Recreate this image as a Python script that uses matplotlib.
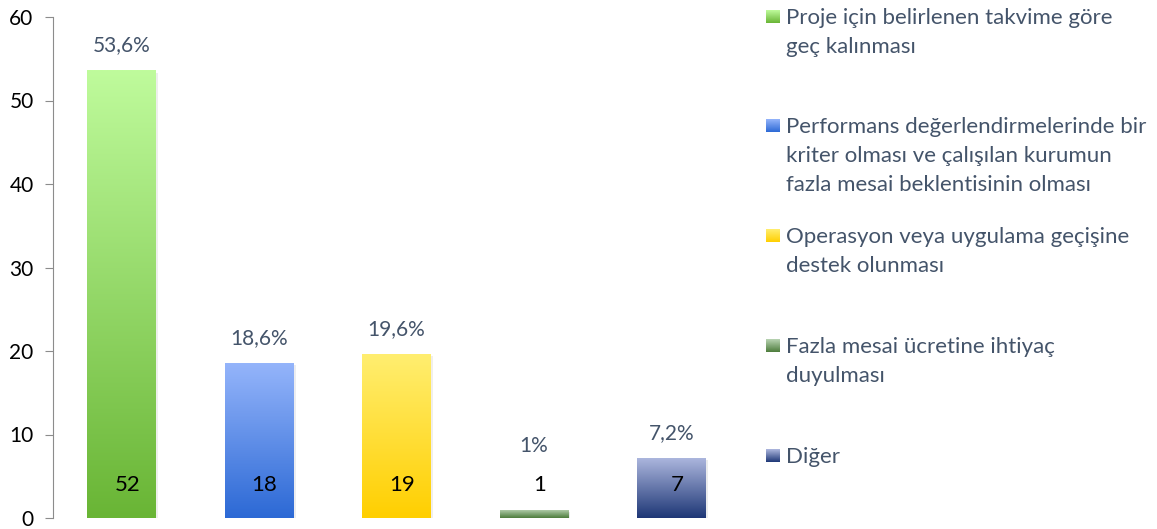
import numpy as np
import matplotlib.pyplot as plt
import matplotlib.patheffects as pe
from matplotlib.colors import to_rgb

plt.rcParams['font.family'] = ['Lato', 'DejaVu Sans']

# datos
categorias = ["Proje için belirlenen takvime göre\ngeç kalınması",
              "Performans değerlendirmelerinde bir\nkriter olması ve çalışılan kurumun\nfazla mesai beklentisinin olması",
              "Operasyon veya uygulama geçişine\ndestek olunması",
              "Fazla mesai ücretine ihtiyaç\nduyulması",
              "Diğer"]
porcentajes = [53.6, 18.6, 19.6, 1.0, 7.2]
etiquetas_pct = ["53,6%", "18,6%", "19,6%", "1%", "7,2%"]
cantidades = [52, 18, 19, 1, 7]
color_arriba = ["#bffb9c", "#95b5fb", "#ffee70", "#b9d4b3", "#aeb8df"]
color_abajo = ["#69b535", "#2c69d5", "#ffcf00", "#4d7c3c", "#1e3776"]
yticks = [0, 10, 20, 30, 40, 50, 60]

texto_col = "#44546a"
W, H = 1157, 529


def degradado(c1, c2, n=256):
    a = np.array(to_rgb(c1))
    b = np.array(to_rgb(c2))
    t = np.linspace(0, 1, n)[:, None]
    return (a * (1 - t) + b * t)[:, None, :]


fig = plt.figure(figsize=(W / 100, H / 100), dpi=100)
ax = fig.add_axes([53 / W, 1 - 518 / H, (740 - 53) / W, (518 - 17) / H])

x = np.arange(len(porcentajes))
ancho = 0.5
barras = ax.bar(x, porcentajes, width=ancho, color=color_abajo, zorder=2)

for i, b in enumerate(barras):
    b.set_path_effects([pe.SimplePatchShadow(offset=(1.5, -1.5), alpha=0.08), pe.Normal()])
    x0 = b.get_x()
    im = ax.imshow(degradado(color_arriba[i], color_abajo[i]), aspect='auto',
                   extent=(x0, x0 + ancho, 0, porcentajes[i]), zorder=3,
                   interpolation='bilinear')
    im.set_clip_path(b)
    # porcentaje arriba
    ypct = max(porcentajes[i] + 3.0, 8.6)
    ax.text(x[i], ypct, etiquetas_pct[i], ha='center', va='center',
            fontsize=15, color=texto_col, zorder=4)
    # cantidad dentro
    ax.text(x[i] + 0.04, 4.0, str(cantidades[i]), ha='center', va='center',
            fontsize=16, color='black', zorder=4)

ax.set_xlim(-0.5, len(porcentajes) - 0.5)
ax.set_ylim(0, 60)
ax.set_yticks(yticks)
ax.set_xticks([])
for s in ['top', 'right', 'bottom']:
    ax.spines[s].set_visible(False)
ax.spines['left'].set_color('#8c8c8c')
ax.tick_params(axis='y', colors='#8c8c8c', length=6, labelcolor='black',
               labelsize=15, pad=8)

# leyenda manual
cuadro_top = [10, 119, 229, 339, 449]
for i, cat in enumerate(categorias):
    cax = fig.add_axes([766 / W, 1 - (cuadro_top[i] + 13) / H, 14 / W, 13 / H])
    cax.imshow(degradado(color_arriba[i], color_abajo[i]), aspect='auto',
               interpolation='bilinear')
    cax.axis('off')
    fig.text(786 / W, 1 - (cuadro_top[i] - 2) / H, cat, ha='left', va='top',
             fontsize=16, color=texto_col, linespacing=1.55)

fig.savefig("out.png", dpi=100)
